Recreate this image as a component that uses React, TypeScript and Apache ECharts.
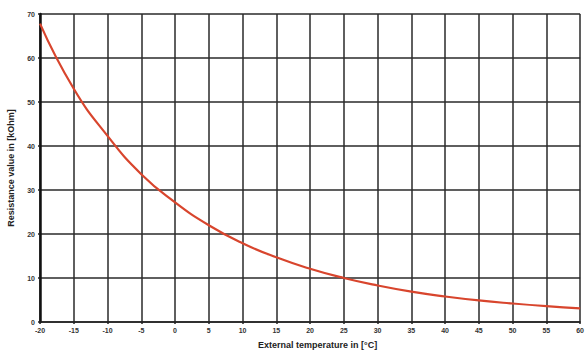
import React, { useEffect, useRef } from "react";
import * as echarts from "echarts";

const temperatures = [-20, -15, -10, -5, 0, 5, 10, 15, 20, 25, 30, 35, 40, 45, 50, 55, 60];
const resistance = [67.8, 53.0, 42.3, 33.6, 27.2, 22.0, 17.9, 14.7, 12.1, 10.0, 8.3, 6.9, 5.8, 4.9, 4.2, 3.6, 3.1];
const xTitle = "External temperature in [°C]";
const yTitle = "Resistance value in [kOhm]";

export default function App() {
  const ref = useRef<HTMLDivElement>(null);
  useEffect(() => {
    if (!ref.current) return;
    const chart = echarts.init(ref.current, undefined, { renderer: "svg" });
    const gridLine = { color: "#2a2a2a", width: 1.5 };
    chart.setOption({
      animation: false,
      backgroundColor: "#ffffff",
      grid: { left: 40, right: 5, top: 14, bottom: 32, containLabel: false },
      xAxis: {
        type: "value",
        min: -20,
        max: 60,
        interval: 5,
        axisLine: { show: true, onZero: false, lineStyle: { color: "#222", width: 1.5 } },
        axisTick: { show: true, length: 2, lineStyle: { color: "#222", width: 1.5 } },
        axisLabel: { color: "#333", fontSize: 7, fontFamily: "Liberation Sans", fontWeight: "bold", margin: 5 },
        splitLine: { show: true, lineStyle: gridLine },
      },
      yAxis: {
        type: "value",
        min: 0,
        max: 70,
        interval: 10,
        axisLine: { show: true, onZero: false, lineStyle: { color: "#111", width: 2.5 } },
        axisTick: { show: true, length: 2, lineStyle: { color: "#222", width: 1.5 } },
        axisLabel: { color: "#333", fontSize: 7, fontFamily: "Liberation Sans", fontWeight: "bold", margin: 5 },
        splitLine: { show: true, lineStyle: gridLine },
      },
      graphic: [
        {
          type: "text",
          left: 258,
          top: 340,
          style: { text: xTitle, fontSize: 9, fontWeight: "bold", fontFamily: "Liberation Sans", fill: "#222" },
        },
        {
          type: "text",
          x: 11,
          y: 168,
          rotation: Math.PI / 2,
          style: {
            text: yTitle,
            fontSize: 9,
            fontWeight: "bold",
            fontFamily: "Liberation Sans",
            fill: "#222",
            align: "center",
            verticalAlign: "middle",
          },
        },
      ],
      series: [
        {
          type: "line",
          data: temperatures.map((t, i) => [t, resistance[i]]),
          smooth: true,
          showSymbol: false,
          lineStyle: { color: "#d8452d", width: 2.2 },
        },
      ],
    });
    return () => chart.dispose();
  }, []);
  return <div ref={ref} style={{ width: 587, height: 354, position: "absolute", left: 0, top: 0 }} />;
}
